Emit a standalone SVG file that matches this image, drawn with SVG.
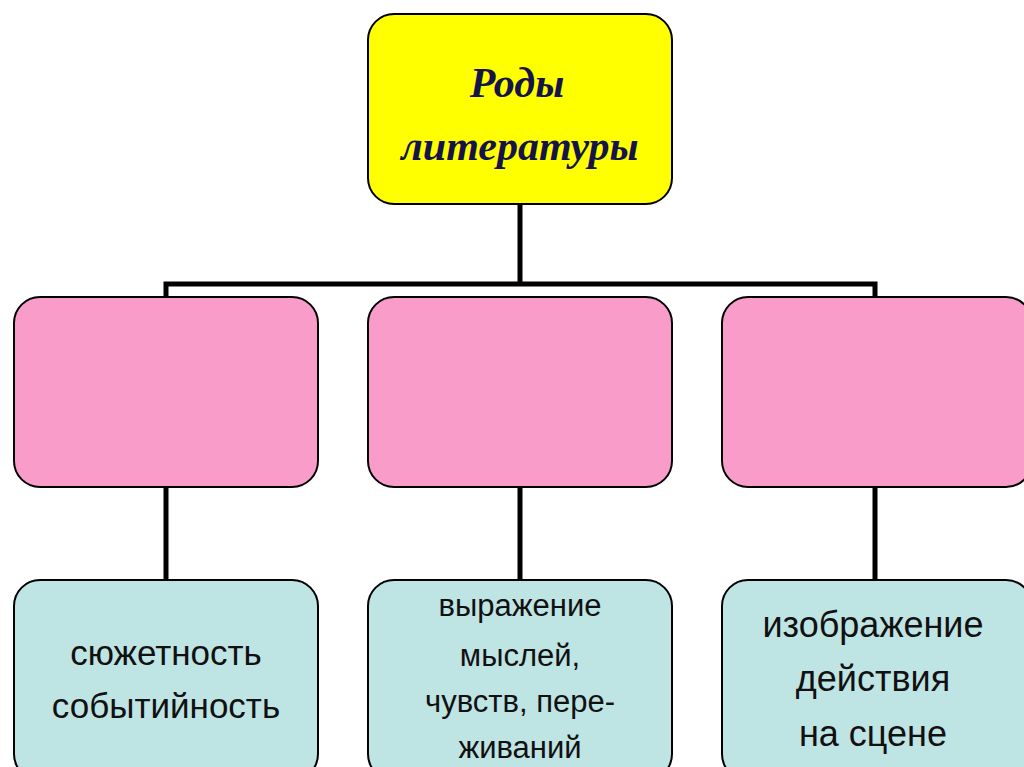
<svg xmlns="http://www.w3.org/2000/svg" width="1024" height="767" viewBox="0 0 1024 767">
<style>
.b{stroke:#000;stroke-width:2}
.y{fill:#FFFF00}.p{fill:#F99CC9}.c{fill:#BFE4E4}
.l{stroke:#000;stroke-width:5;fill:none}
.t{font-family:"Liberation Serif",serif;font-weight:bold;font-style:italic;font-size:42px;fill:#14144a;text-anchor:middle}
.s{font-family:"Liberation Sans",sans-serif;fill:#111;text-anchor:middle}
</style>
<rect width="1024" height="767" fill="#fff"/>
<g id="connectors">
<path class="l" d="M520 204V285M166 297V284H875V297M166 487V580M520 487V580M875 487V580"/>
</g>
<g id="top"><rect class="b y" x="368" y="14" width="304" height="190" rx="26"/>
<text class="t" x="517" y="97">Роды</text><text class="t" x="520" y="160">литературы</text></g>
<g id="p1"><rect class="b p" x="14" y="297" width="304" height="190" rx="26"/></g>
<g id="p2"><rect class="b p" x="368" y="297" width="304" height="190" rx="26"/></g>
<g id="p3"><rect class="b p" x="722" y="297" width="310" height="190" rx="26"/></g>
<g id="c1"><rect class="b c" x="14" y="580" width="304" height="200" rx="26"/>
<text class="s" font-size="35" x="166" y="665">сюжетность</text><text class="s" font-size="35" x="166" y="718">событийность</text></g>
<g id="c2"><rect class="b c" x="368" y="580" width="304" height="200" rx="26"/>
<text class="s" font-size="31" x="520" y="616">выражение</text><text class="s" font-size="31" x="520" y="666">мыслей,</text><text class="s" font-size="31" x="520" y="712">чувств, пере-</text><text class="s" font-size="31" x="520" y="758">живаний</text></g>
<g id="c3"><rect class="b c" x="722" y="580" width="310" height="200" rx="26"/>
<text class="s" font-size="36" x="873" y="637">изображение</text><text class="s" font-size="36" x="873" y="691">действия</text><text class="s" font-size="36" x="873" y="746">на сцене</text></g>
</svg>
